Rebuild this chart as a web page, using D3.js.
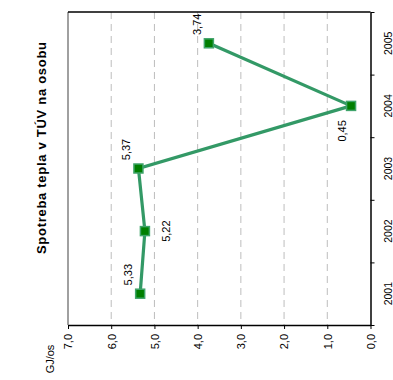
<!DOCTYPE html>
<html><head><meta charset="utf-8">
<script src="https://cdn.jsdelivr.net/npm/d3@7"></script>
<style>
body{margin:0;background:#fff;}
text{font-family:"Liberation Sans",Arial,sans-serif;fill:#000;}
</style></head>
<body><svg id="c" width="393" height="380"></svg>
<script>
const years = ["2001","2002","2003","2004","2005"];
const values = [5.33, 5.22, 5.37, 0.45, 3.74];
const valueLabels = ["5,33","5,22","5,37","0,45","3,74"];
const labelSide = ["left","right","left","below","left"];
const tickValues = [0,1,2,3,4,5,6,7];
const tickLabels = ["0,0","1,0","2,0","3,0","4,0","5,0","6,0","7,0"];
const title = "Spotreba tepla v TÚV na osobu";
const unit = "GJ/os";

const svg = d3.select("#c");
const L = 68, R = 370.5, T = 12, B = 325;
const x = d3.scaleLinear().domain([0,7]).range([R, L]);
const yb = d3.scaleBand().domain(years.slice().reverse()).range([T, B]);
const yIdx = d3.scaleLinear().domain([0, years.length]).range([B, T]);

// gridlines
svg.append("g").selectAll("line").data(tickValues.filter(v => v > 0 && v < 7)).join("line")
  .attr("x1", d => x(d)).attr("x2", d => x(d)).attr("y1", T).attr("y2", B)
  .attr("stroke", "#bdbdbd").attr("stroke-width", 1).attr("stroke-dasharray", "7,5");

// frame: left gray, top black
svg.append("line").attr("x1", L).attr("x2", L).attr("y1", T).attr("y2", B)
  .attr("stroke", "#808080").attr("stroke-width", 1.5);
svg.append("line").attr("x1", L).attr("x2", R).attr("y1", T).attr("y2", T)
  .attr("stroke", "#000").attr("stroke-width", 1.5);

// bottom axis
const gx = svg.append("g").attr("transform", `translate(0,${B})`)
  .call(d3.axisBottom(x).tickValues(tickValues).tickSize(4).tickSizeOuter(0)
    .tickFormat(d => tickLabels[tickValues.indexOf(d)]));
gx.select(".domain").attr("stroke", "#000").attr("stroke-width", 1.5);
gx.selectAll(".tick line").attr("stroke", "#000");
gx.selectAll(".tick text").attr("font-size", 11)
  .attr("transform", "rotate(-90)").attr("text-anchor", "end")
  .attr("x", -9).attr("y", 0).attr("dy", "0.35em");

// right axis (ticks at band boundaries)
const gy = svg.append("g").attr("transform", `translate(${R},0)`)
  .call(d3.axisRight(yIdx).ticks(years.length).tickSize(4).tickSizeOuter(0).tickFormat(""));
gy.select(".domain").attr("stroke", "#000").attr("stroke-width", 1.5);
gy.selectAll(".tick line").attr("stroke", "#000");

svg.append("g").selectAll("text").data(years).join("text")
  .attr("transform", d => `translate(${R + 18},${yb(d) + yb.bandwidth()/2}) rotate(-90)`)
  .attr("text-anchor", "middle").attr("dy", "0.35em").attr("font-size", 10.5).text(d => d);

// line
const pts = years.map((y,i) => ({y, v: values[i], lab: valueLabels[i], side: labelSide[i]}));
const cy = d => yb(d.y) + yb.bandwidth()/2;
svg.append("path").datum(pts)
  .attr("d", d3.line().x(d => x(d.v)).y(cy))
  .attr("fill", "none").attr("stroke", "#339966").attr("stroke-width", 3.2);

// markers
const ms = 9;
svg.append("g").selectAll("rect").data(pts).join("rect")
  .attr("x", d => x(d.v) - ms/2).attr("y", d => cy(d) - ms/2)
  .attr("width", ms).attr("height", ms)
  .attr("fill", "#007f00").attr("stroke", "#3fa46a").attr("stroke-width", 1.5);

// value labels
const off = {left:[-12,-19], right:[21,0], below:[-9,25]};
svg.append("g").selectAll("text").data(pts).join("text")
  .attr("transform", d => `translate(${x(d.v) + off[d.side][0]},${cy(d) + off[d.side][1]}) rotate(-90)`)
  .attr("text-anchor", "middle").attr("dy", "0.35em").attr("font-size", 11).text(d => d.lab);

// title
svg.append("text").attr("transform", `translate(41,148) rotate(-90)`)
  .attr("text-anchor", "middle").attr("dy", "0.35em").attr("font-size", 13).attr("font-weight", "bold")
  .attr("textLength", 212).attr("lengthAdjust", "spacing").text(title);

// unit
svg.append("text").attr("transform", `translate(50,359) rotate(-90)`)
  .attr("text-anchor", "middle").attr("dy", "0.35em").attr("font-size", 11).text(unit);
</script></body></html>
